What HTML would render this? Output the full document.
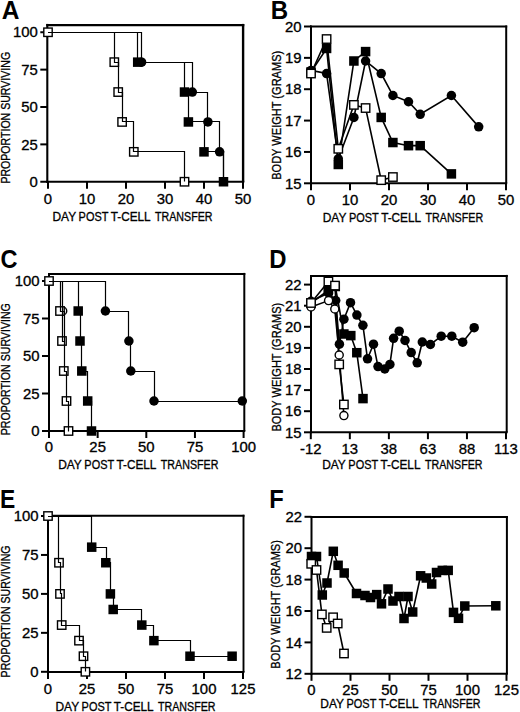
<!DOCTYPE html><html><head><meta charset="utf-8"><style>html,body{margin:0;padding:0;background:#fff;}svg{display:block;}text{stroke:#000;stroke-width:0.3px;}text.b{stroke-width:0;}</style></head><body>
<svg width="520" height="712" viewBox="0 0 520 712" font-family='"Liberation Sans", sans-serif' fill="#000">
<rect width="520" height="712" fill="#fff"/>
<line x1="47.30" y1="23.90" x2="47.30" y2="182.85" stroke="#000" stroke-width="2.1"/>
<line x1="46.25" y1="181.80" x2="244.30" y2="181.80" stroke="#000" stroke-width="2.1"/>
<line x1="46.25" y1="25.10" x2="244.30" y2="25.10" stroke="#000" stroke-width="2.4"/>
<line x1="243.10" y1="23.90" x2="243.10" y2="181.80" stroke="#000" stroke-width="2.4"/>
<line x1="40.30" y1="32.25" x2="47.30" y2="32.25" stroke="#000" stroke-width="2"/>
<text x="37.90" y="37.45" font-size="13.8" text-anchor="end" textLength="24.86" lengthAdjust="spacingAndGlyphs">100</text>
<line x1="40.30" y1="69.62" x2="47.30" y2="69.62" stroke="#000" stroke-width="2"/>
<text x="37.90" y="74.82" font-size="13.8" text-anchor="end" textLength="16.58" lengthAdjust="spacingAndGlyphs">75</text>
<line x1="40.30" y1="107.00" x2="47.30" y2="107.00" stroke="#000" stroke-width="2"/>
<text x="37.90" y="112.20" font-size="13.8" text-anchor="end" textLength="16.58" lengthAdjust="spacingAndGlyphs">50</text>
<line x1="40.30" y1="144.38" x2="47.30" y2="144.38" stroke="#000" stroke-width="2"/>
<text x="37.90" y="149.57" font-size="13.8" text-anchor="end" textLength="16.58" lengthAdjust="spacingAndGlyphs">25</text>
<line x1="40.30" y1="181.75" x2="47.30" y2="181.75" stroke="#000" stroke-width="2"/>
<text x="37.90" y="186.95" font-size="13.8" text-anchor="end" textLength="8.29" lengthAdjust="spacingAndGlyphs">0</text>
<line x1="48.00" y1="181.80" x2="48.00" y2="188.80" stroke="#000" stroke-width="2"/>
<text x="48.00" y="203.80" font-size="13.8" text-anchor="middle" textLength="8.29" lengthAdjust="spacingAndGlyphs">0</text>
<line x1="87.00" y1="181.80" x2="87.00" y2="188.80" stroke="#000" stroke-width="2"/>
<text x="87.00" y="203.80" font-size="13.8" text-anchor="middle" textLength="16.58" lengthAdjust="spacingAndGlyphs">10</text>
<line x1="126.00" y1="181.80" x2="126.00" y2="188.80" stroke="#000" stroke-width="2"/>
<text x="126.00" y="203.80" font-size="13.8" text-anchor="middle" textLength="16.58" lengthAdjust="spacingAndGlyphs">20</text>
<line x1="165.00" y1="181.80" x2="165.00" y2="188.80" stroke="#000" stroke-width="2"/>
<text x="165.00" y="203.80" font-size="13.8" text-anchor="middle" textLength="16.58" lengthAdjust="spacingAndGlyphs">30</text>
<line x1="204.00" y1="181.80" x2="204.00" y2="188.80" stroke="#000" stroke-width="2"/>
<text x="204.00" y="203.80" font-size="13.8" text-anchor="middle" textLength="16.58" lengthAdjust="spacingAndGlyphs">40</text>
<line x1="243.00" y1="181.80" x2="243.00" y2="188.80" stroke="#000" stroke-width="2"/>
<text x="243.00" y="203.80" font-size="13.8" text-anchor="middle" textLength="16.58" lengthAdjust="spacingAndGlyphs">50</text>
<text x="64.28" y="220.70" font-size="12.1" text-anchor="middle" textLength="23.66" lengthAdjust="spacingAndGlyphs">DAY</text>
<text x="93.50" y="220.70" font-size="12.1" text-anchor="middle" textLength="29.77" lengthAdjust="spacingAndGlyphs">POST</text>
<text x="130.67" y="220.70" font-size="12.1" text-anchor="middle" textLength="39.87" lengthAdjust="spacingAndGlyphs">T-CELL</text>
<text x="183.78" y="220.70" font-size="12.1" text-anchor="middle" textLength="57.54" lengthAdjust="spacingAndGlyphs">TRANSFER</text>
<text transform="translate(10.20,117.75) rotate(-90)" x="0" y="0" font-size="12.5" text-anchor="middle" textLength="131.70" lengthAdjust="spacingAndGlyphs">PROPORTION SURVIVING</text>
<text x="1.69" y="18.60" font-size="25.22" class="b" font-weight="bold" textLength="17.68" lengthAdjust="spacingAndGlyphs">A</text>
<circle cx="141.60" cy="62.15" r="4.75" fill="#000"/>
<circle cx="192.30" cy="92.05" r="4.75" fill="#000"/>
<circle cx="207.90" cy="121.95" r="4.75" fill="#000"/>
<circle cx="219.60" cy="151.85" r="4.75" fill="#000"/>
<rect x="132.95" y="57.40" width="9.50" height="9.50" fill="#000"/>
<rect x="179.75" y="87.30" width="9.50" height="9.50" fill="#000"/>
<rect x="183.65" y="117.20" width="9.50" height="9.50" fill="#000"/>
<rect x="199.25" y="147.10" width="9.50" height="9.50" fill="#000"/>
<rect x="218.75" y="177.00" width="9.50" height="9.50" fill="#000"/>
<rect x="43.80" y="28.05" width="8.40" height="8.40" fill="#fff" stroke="#000" stroke-width="1.4"/>
<rect x="110.10" y="57.95" width="8.40" height="8.40" fill="#fff" stroke="#000" stroke-width="1.4"/>
<rect x="114.00" y="87.85" width="8.40" height="8.40" fill="#fff" stroke="#000" stroke-width="1.4"/>
<rect x="117.90" y="117.75" width="8.40" height="8.40" fill="#fff" stroke="#000" stroke-width="1.4"/>
<rect x="129.60" y="147.65" width="8.40" height="8.40" fill="#fff" stroke="#000" stroke-width="1.4"/>
<rect x="180.30" y="177.55" width="8.40" height="8.40" fill="#fff" stroke="#000" stroke-width="1.4"/>
<polyline points="48.00,32.50 137.50,32.50 137.50,62.50 184.50,62.50 184.50,92.50 188.50,92.50 188.50,121.50 204.50,121.50 204.50,151.50 223.50,151.50 223.50,181.50" fill="none" stroke="#000" stroke-width="1.2" stroke-linejoin="miter"/>
<polyline points="48.00,32.50 141.50,32.50 141.50,62.50 192.50,62.50 192.50,92.50 207.50,92.50 207.50,121.50 219.50,121.50 219.50,151.50 223.50,151.50 223.50,181.50" fill="none" stroke="#000" stroke-width="1.2" stroke-linejoin="miter"/>
<polyline points="48.00,32.50 114.50,32.50 114.50,62.50 118.50,62.50 118.50,92.50 122.50,92.50 122.50,121.50 133.50,121.50 133.50,151.50 184.50,151.50 184.50,181.50" fill="none" stroke="#000" stroke-width="1.2" stroke-linejoin="miter"/>
<line x1="311.00" y1="25.50" x2="311.00" y2="184.30" stroke="#000" stroke-width="2.0"/>
<line x1="310.00" y1="183.30" x2="507.20" y2="183.30" stroke="#000" stroke-width="2.0"/>
<line x1="310.00" y1="26.50" x2="507.20" y2="26.50" stroke="#000" stroke-width="2.0"/>
<line x1="506.20" y1="25.50" x2="506.20" y2="183.30" stroke="#000" stroke-width="2.0"/>
<line x1="304.00" y1="26.50" x2="311.00" y2="26.50" stroke="#000" stroke-width="2"/>
<text x="301.60" y="31.70" font-size="13.8" text-anchor="end" textLength="16.58" lengthAdjust="spacingAndGlyphs">20</text>
<line x1="304.00" y1="57.86" x2="311.00" y2="57.86" stroke="#000" stroke-width="2"/>
<text x="301.60" y="63.06" font-size="13.8" text-anchor="end" textLength="16.58" lengthAdjust="spacingAndGlyphs">19</text>
<line x1="304.00" y1="89.22" x2="311.00" y2="89.22" stroke="#000" stroke-width="2"/>
<text x="301.60" y="94.42" font-size="13.8" text-anchor="end" textLength="16.58" lengthAdjust="spacingAndGlyphs">18</text>
<line x1="304.00" y1="120.58" x2="311.00" y2="120.58" stroke="#000" stroke-width="2"/>
<text x="301.60" y="125.78" font-size="13.8" text-anchor="end" textLength="16.58" lengthAdjust="spacingAndGlyphs">17</text>
<line x1="304.00" y1="151.94" x2="311.00" y2="151.94" stroke="#000" stroke-width="2"/>
<text x="301.60" y="157.14" font-size="13.8" text-anchor="end" textLength="16.58" lengthAdjust="spacingAndGlyphs">16</text>
<line x1="304.00" y1="183.30" x2="311.00" y2="183.30" stroke="#000" stroke-width="2"/>
<text x="301.60" y="188.50" font-size="13.8" text-anchor="end" textLength="16.58" lengthAdjust="spacingAndGlyphs">15</text>
<line x1="311.00" y1="183.30" x2="311.00" y2="190.30" stroke="#000" stroke-width="2"/>
<text x="311.00" y="205.30" font-size="13.8" text-anchor="middle" textLength="8.29" lengthAdjust="spacingAndGlyphs">0</text>
<line x1="350.00" y1="183.30" x2="350.00" y2="190.30" stroke="#000" stroke-width="2"/>
<text x="350.00" y="205.30" font-size="13.8" text-anchor="middle" textLength="16.58" lengthAdjust="spacingAndGlyphs">10</text>
<line x1="389.00" y1="183.30" x2="389.00" y2="190.30" stroke="#000" stroke-width="2"/>
<text x="389.00" y="205.30" font-size="13.8" text-anchor="middle" textLength="16.58" lengthAdjust="spacingAndGlyphs">20</text>
<line x1="428.00" y1="183.30" x2="428.00" y2="190.30" stroke="#000" stroke-width="2"/>
<text x="428.00" y="205.30" font-size="13.8" text-anchor="middle" textLength="16.58" lengthAdjust="spacingAndGlyphs">30</text>
<line x1="467.00" y1="183.30" x2="467.00" y2="190.30" stroke="#000" stroke-width="2"/>
<text x="467.00" y="205.30" font-size="13.8" text-anchor="middle" textLength="16.58" lengthAdjust="spacingAndGlyphs">40</text>
<line x1="506.00" y1="183.30" x2="506.00" y2="190.30" stroke="#000" stroke-width="2"/>
<text x="506.00" y="205.30" font-size="13.8" text-anchor="middle" textLength="16.58" lengthAdjust="spacingAndGlyphs">50</text>
<text x="334.60" y="221.70" font-size="12.1" text-anchor="middle" textLength="23.71" lengthAdjust="spacingAndGlyphs">DAY</text>
<text x="363.88" y="221.70" font-size="12.1" text-anchor="middle" textLength="29.82" lengthAdjust="spacingAndGlyphs">POST</text>
<text x="401.12" y="221.70" font-size="12.1" text-anchor="middle" textLength="39.95" lengthAdjust="spacingAndGlyphs">T-CELL</text>
<text x="454.33" y="221.70" font-size="12.1" text-anchor="middle" textLength="57.64" lengthAdjust="spacingAndGlyphs">TRANSFER</text>
<text transform="translate(281.00,115.30) rotate(-90)" x="0" y="0" font-size="12.5" text-anchor="middle" textLength="129.00" lengthAdjust="spacingAndGlyphs">BODY WEIGHT (GRAMS)</text>
<text x="270.63" y="18.60" font-size="25.22" class="b" font-weight="bold" textLength="17.40" lengthAdjust="spacingAndGlyphs">B</text>
<polyline points="311.00,70.40 326.60,73.54 338.30,158.84 353.90,117.44 365.60,61.00 381.20,73.54 392.90,95.49 408.50,101.76 420.20,114.31 451.40,95.49 478.70,126.85" fill="none" stroke="#000" stroke-width="1.6" stroke-linejoin="miter"/>
<polyline points="311.00,71.97 326.60,48.45 338.30,164.48 353.90,61.00 365.60,51.59 381.20,117.44 392.90,142.53 408.50,145.67 420.20,145.67 451.40,173.89" fill="none" stroke="#000" stroke-width="1.6" stroke-linejoin="miter"/>
<polyline points="311.00,73.54 326.60,39.04 338.30,148.80 353.90,104.90 365.60,108.04 381.20,180.16 392.90,177.03" fill="none" stroke="#000" stroke-width="1.6" stroke-linejoin="miter"/>
<circle cx="311.00" cy="70.40" r="4.75" fill="#000"/>
<circle cx="326.60" cy="73.54" r="4.75" fill="#000"/>
<circle cx="338.30" cy="158.84" r="4.75" fill="#000"/>
<circle cx="353.90" cy="117.44" r="4.75" fill="#000"/>
<circle cx="365.60" cy="61.00" r="4.75" fill="#000"/>
<circle cx="381.20" cy="73.54" r="4.75" fill="#000"/>
<circle cx="392.90" cy="95.49" r="4.75" fill="#000"/>
<circle cx="408.50" cy="101.76" r="4.75" fill="#000"/>
<circle cx="420.20" cy="114.31" r="4.75" fill="#000"/>
<circle cx="451.40" cy="95.49" r="4.75" fill="#000"/>
<circle cx="478.70" cy="126.85" r="4.75" fill="#000"/>
<rect x="306.25" y="67.22" width="9.50" height="9.50" fill="#000"/>
<rect x="321.85" y="43.70" width="9.50" height="9.50" fill="#000"/>
<rect x="333.55" y="159.73" width="9.50" height="9.50" fill="#000"/>
<rect x="349.15" y="56.25" width="9.50" height="9.50" fill="#000"/>
<rect x="360.85" y="46.84" width="9.50" height="9.50" fill="#000"/>
<rect x="376.45" y="112.69" width="9.50" height="9.50" fill="#000"/>
<rect x="388.15" y="137.78" width="9.50" height="9.50" fill="#000"/>
<rect x="403.75" y="140.92" width="9.50" height="9.50" fill="#000"/>
<rect x="415.45" y="140.92" width="9.50" height="9.50" fill="#000"/>
<rect x="446.65" y="169.14" width="9.50" height="9.50" fill="#000"/>
<rect x="306.80" y="69.34" width="8.40" height="8.40" fill="#fff" stroke="#000" stroke-width="1.4"/>
<rect x="322.40" y="34.84" width="8.40" height="8.40" fill="#fff" stroke="#000" stroke-width="1.4"/>
<rect x="334.10" y="144.60" width="8.40" height="8.40" fill="#fff" stroke="#000" stroke-width="1.4"/>
<rect x="349.70" y="100.70" width="8.40" height="8.40" fill="#fff" stroke="#000" stroke-width="1.4"/>
<rect x="361.40" y="103.84" width="8.40" height="8.40" fill="#fff" stroke="#000" stroke-width="1.4"/>
<rect x="377.00" y="175.96" width="8.40" height="8.40" fill="#fff" stroke="#000" stroke-width="1.4"/>
<rect x="388.70" y="172.83" width="8.40" height="8.40" fill="#fff" stroke="#000" stroke-width="1.4"/>
<line x1="49.00" y1="272.90" x2="49.00" y2="432.00" stroke="#000" stroke-width="2.0"/>
<line x1="48.00" y1="431.00" x2="245.30" y2="431.00" stroke="#000" stroke-width="2.0"/>
<line x1="48.00" y1="273.90" x2="245.30" y2="273.90" stroke="#000" stroke-width="2.0"/>
<line x1="244.30" y1="272.90" x2="244.30" y2="431.00" stroke="#000" stroke-width="2.0"/>
<line x1="42.00" y1="281.00" x2="49.00" y2="281.00" stroke="#000" stroke-width="2"/>
<text x="39.60" y="286.20" font-size="13.8" text-anchor="end" textLength="24.86" lengthAdjust="spacingAndGlyphs">100</text>
<line x1="42.00" y1="318.50" x2="49.00" y2="318.50" stroke="#000" stroke-width="2"/>
<text x="39.60" y="323.70" font-size="13.8" text-anchor="end" textLength="16.58" lengthAdjust="spacingAndGlyphs">75</text>
<line x1="42.00" y1="356.00" x2="49.00" y2="356.00" stroke="#000" stroke-width="2"/>
<text x="39.60" y="361.20" font-size="13.8" text-anchor="end" textLength="16.58" lengthAdjust="spacingAndGlyphs">50</text>
<line x1="42.00" y1="393.50" x2="49.00" y2="393.50" stroke="#000" stroke-width="2"/>
<text x="39.60" y="398.70" font-size="13.8" text-anchor="end" textLength="16.58" lengthAdjust="spacingAndGlyphs">25</text>
<line x1="42.00" y1="431.00" x2="49.00" y2="431.00" stroke="#000" stroke-width="2"/>
<text x="39.60" y="436.20" font-size="13.8" text-anchor="end" textLength="8.29" lengthAdjust="spacingAndGlyphs">0</text>
<line x1="49.00" y1="431.00" x2="49.00" y2="438.00" stroke="#000" stroke-width="2"/>
<text x="49.00" y="452.10" font-size="13.8" text-anchor="middle" textLength="8.29" lengthAdjust="spacingAndGlyphs">0</text>
<line x1="97.65" y1="431.00" x2="97.65" y2="438.00" stroke="#000" stroke-width="2"/>
<text x="97.65" y="452.10" font-size="13.8" text-anchor="middle" textLength="16.58" lengthAdjust="spacingAndGlyphs">25</text>
<line x1="146.30" y1="431.00" x2="146.30" y2="438.00" stroke="#000" stroke-width="2"/>
<text x="146.30" y="452.10" font-size="13.8" text-anchor="middle" textLength="16.58" lengthAdjust="spacingAndGlyphs">50</text>
<line x1="194.95" y1="431.00" x2="194.95" y2="438.00" stroke="#000" stroke-width="2"/>
<text x="194.95" y="452.10" font-size="13.8" text-anchor="middle" textLength="16.58" lengthAdjust="spacingAndGlyphs">75</text>
<line x1="243.60" y1="431.00" x2="243.60" y2="438.00" stroke="#000" stroke-width="2"/>
<text x="243.60" y="452.10" font-size="13.8" text-anchor="middle" textLength="24.86" lengthAdjust="spacingAndGlyphs">100</text>
<text x="70.00" y="469.40" font-size="12.1" text-anchor="middle" textLength="23.69" lengthAdjust="spacingAndGlyphs">DAY</text>
<text x="99.25" y="469.40" font-size="12.1" text-anchor="middle" textLength="29.80" lengthAdjust="spacingAndGlyphs">POST</text>
<text x="136.47" y="469.40" font-size="12.1" text-anchor="middle" textLength="39.92" lengthAdjust="spacingAndGlyphs">T-CELL</text>
<text x="189.65" y="469.40" font-size="12.1" text-anchor="middle" textLength="57.61" lengthAdjust="spacingAndGlyphs">TRANSFER</text>
<text transform="translate(10.30,369.25) rotate(-90)" x="0" y="0" font-size="12.5" text-anchor="middle" textLength="132.10" lengthAdjust="spacingAndGlyphs">PROPORTION SURVIVING</text>
<text x="0.56" y="268.35" font-size="25.49" class="b" font-weight="bold" textLength="16.98" lengthAdjust="spacingAndGlyphs">C</text>
<circle cx="105.40" cy="311.00" r="4.75" fill="#000"/>
<circle cx="128.90" cy="341.00" r="4.75" fill="#000"/>
<circle cx="130.80" cy="371.00" r="4.75" fill="#000"/>
<circle cx="154.00" cy="401.00" r="4.75" fill="#000"/>
<circle cx="242.30" cy="401.00" r="4.75" fill="#000"/>
<rect x="73.45" y="306.25" width="9.50" height="9.50" fill="#000"/>
<rect x="75.25" y="336.25" width="9.50" height="9.50" fill="#000"/>
<rect x="77.05" y="366.25" width="9.50" height="9.50" fill="#000"/>
<rect x="82.95" y="396.25" width="9.50" height="9.50" fill="#000"/>
<rect x="86.75" y="426.25" width="9.50" height="9.50" fill="#000"/>
<circle cx="62.70" cy="311.00" r="4.05" fill="#fff" stroke="#000" stroke-width="1.4"/>
<rect x="44.80" y="276.80" width="8.40" height="8.40" fill="#fff" stroke="#000" stroke-width="1.4"/>
<rect x="55.80" y="306.80" width="8.40" height="8.40" fill="#fff" stroke="#000" stroke-width="1.4"/>
<rect x="57.80" y="336.80" width="8.40" height="8.40" fill="#fff" stroke="#000" stroke-width="1.4"/>
<rect x="59.60" y="366.80" width="8.40" height="8.40" fill="#fff" stroke="#000" stroke-width="1.4"/>
<rect x="62.30" y="396.80" width="8.40" height="8.40" fill="#fff" stroke="#000" stroke-width="1.4"/>
<rect x="64.30" y="426.80" width="8.40" height="8.40" fill="#fff" stroke="#000" stroke-width="1.4"/>
<polyline points="49.00,281.50 105.50,281.50 105.50,311.50 128.50,311.50 128.50,341.50 130.50,341.50 130.50,371.50 154.50,371.50 154.50,401.50 242.50,401.50 242.50,401.50" fill="none" stroke="#000" stroke-width="1.2" stroke-linejoin="miter"/>
<polyline points="49.00,281.50 78.50,281.50 78.50,311.50 80.50,311.50 80.50,341.50 81.50,341.50 81.50,371.50 87.50,371.50 87.50,401.50 91.50,401.50 91.50,431.50" fill="none" stroke="#000" stroke-width="1.2" stroke-linejoin="miter"/>
<polyline points="49.00,281.50 60.50,281.50 60.50,311.50 62.50,311.50 62.50,341.50 64.50,341.50 64.50,371.50 66.50,371.50 66.50,401.50 68.50,401.50 68.50,431.50" fill="none" stroke="#000" stroke-width="1.2" stroke-linejoin="miter"/>
<polyline points="49.00,281.50 62.50,281.50 62.50,311.50 64.50,311.50 64.50,341.50" fill="none" stroke="#000" stroke-width="1.2" stroke-linejoin="miter"/>
<line x1="311.00" y1="274.90" x2="311.00" y2="433.20" stroke="#000" stroke-width="2.0"/>
<line x1="310.00" y1="432.20" x2="507.70" y2="432.20" stroke="#000" stroke-width="2.0"/>
<line x1="310.00" y1="275.90" x2="507.70" y2="275.90" stroke="#000" stroke-width="2.0"/>
<line x1="506.70" y1="274.90" x2="506.70" y2="432.20" stroke="#000" stroke-width="2.0"/>
<line x1="304.00" y1="284.60" x2="311.00" y2="284.60" stroke="#000" stroke-width="2"/>
<text x="301.60" y="289.80" font-size="13.8" text-anchor="end" textLength="16.58" lengthAdjust="spacingAndGlyphs">22</text>
<line x1="304.00" y1="305.70" x2="311.00" y2="305.70" stroke="#000" stroke-width="2"/>
<text x="301.60" y="310.90" font-size="13.8" text-anchor="end" textLength="16.58" lengthAdjust="spacingAndGlyphs">21</text>
<line x1="304.00" y1="326.80" x2="311.00" y2="326.80" stroke="#000" stroke-width="2"/>
<text x="301.60" y="332.00" font-size="13.8" text-anchor="end" textLength="16.58" lengthAdjust="spacingAndGlyphs">20</text>
<line x1="304.00" y1="347.90" x2="311.00" y2="347.90" stroke="#000" stroke-width="2"/>
<text x="301.60" y="353.10" font-size="13.8" text-anchor="end" textLength="16.58" lengthAdjust="spacingAndGlyphs">19</text>
<line x1="304.00" y1="369.00" x2="311.00" y2="369.00" stroke="#000" stroke-width="2"/>
<text x="301.60" y="374.20" font-size="13.8" text-anchor="end" textLength="16.58" lengthAdjust="spacingAndGlyphs">18</text>
<line x1="304.00" y1="390.10" x2="311.00" y2="390.10" stroke="#000" stroke-width="2"/>
<text x="301.60" y="395.30" font-size="13.8" text-anchor="end" textLength="16.58" lengthAdjust="spacingAndGlyphs">17</text>
<line x1="304.00" y1="411.20" x2="311.00" y2="411.20" stroke="#000" stroke-width="2"/>
<text x="301.60" y="416.40" font-size="13.8" text-anchor="end" textLength="16.58" lengthAdjust="spacingAndGlyphs">16</text>
<line x1="304.00" y1="432.30" x2="311.00" y2="432.30" stroke="#000" stroke-width="2"/>
<text x="301.60" y="437.50" font-size="13.8" text-anchor="end" textLength="16.58" lengthAdjust="spacingAndGlyphs">15</text>
<line x1="310.80" y1="432.20" x2="310.80" y2="439.20" stroke="#000" stroke-width="2"/>
<text x="310.80" y="453.60" font-size="13.8" text-anchor="middle" textLength="21.54" lengthAdjust="spacingAndGlyphs">-12</text>
<line x1="349.84" y1="432.20" x2="349.84" y2="439.20" stroke="#000" stroke-width="2"/>
<text x="349.84" y="453.60" font-size="13.8" text-anchor="middle" textLength="16.58" lengthAdjust="spacingAndGlyphs">13</text>
<line x1="388.88" y1="432.20" x2="388.88" y2="439.20" stroke="#000" stroke-width="2"/>
<text x="388.88" y="453.60" font-size="13.8" text-anchor="middle" textLength="16.58" lengthAdjust="spacingAndGlyphs">38</text>
<line x1="427.92" y1="432.20" x2="427.92" y2="439.20" stroke="#000" stroke-width="2"/>
<text x="427.92" y="453.60" font-size="13.8" text-anchor="middle" textLength="16.58" lengthAdjust="spacingAndGlyphs">63</text>
<line x1="466.96" y1="432.20" x2="466.96" y2="439.20" stroke="#000" stroke-width="2"/>
<text x="466.96" y="453.60" font-size="13.8" text-anchor="middle" textLength="16.58" lengthAdjust="spacingAndGlyphs">88</text>
<line x1="506.00" y1="432.20" x2="506.00" y2="439.20" stroke="#000" stroke-width="2"/>
<text x="506.00" y="453.60" font-size="13.8" text-anchor="middle" textLength="23.76" lengthAdjust="spacingAndGlyphs">113</text>
<text x="334.00" y="469.30" font-size="12.1" text-anchor="middle" textLength="23.71" lengthAdjust="spacingAndGlyphs">DAY</text>
<text x="363.28" y="469.30" font-size="12.1" text-anchor="middle" textLength="29.82" lengthAdjust="spacingAndGlyphs">POST</text>
<text x="400.52" y="469.30" font-size="12.1" text-anchor="middle" textLength="39.95" lengthAdjust="spacingAndGlyphs">T-CELL</text>
<text x="453.73" y="469.30" font-size="12.1" text-anchor="middle" textLength="57.64" lengthAdjust="spacingAndGlyphs">TRANSFER</text>
<text transform="translate(280.60,367.20) rotate(-90)" x="0" y="0" font-size="12.5" text-anchor="middle" textLength="128.80" lengthAdjust="spacingAndGlyphs">BODY WEIGHT (GRAMS)</text>
<text x="269.25" y="268.10" font-size="25.94" class="b" font-weight="bold" textLength="17.26" lengthAdjust="spacingAndGlyphs">D</text>
<polyline points="311.00,301.30 328.60,293.00 335.70,300.50 339.40,344.20 343.90,319.20 350.50,302.70 356.90,315.10 362.90,325.30 367.50,358.80 373.50,344.20 378.00,366.60 384.80,368.90 389.90,364.40 393.60,338.30 399.20,331.20 405.00,340.40 411.20,352.60 417.20,362.80 422.30,342.00 430.40,344.50 441.20,336.20 451.80,336.20 462.70,342.20 474.20,327.70" fill="none" stroke="#000" stroke-width="1.6" stroke-linejoin="miter"/>
<polyline points="311.00,303.00 328.20,290.50 335.30,286.50 343.90,334.00 350.80,335.60 356.80,352.70 363.00,398.60" fill="none" stroke="#000" stroke-width="1.6" stroke-linejoin="miter"/>
<polyline points="311.00,303.00 328.40,281.50 335.00,285.60 339.20,364.40 343.90,404.50" fill="none" stroke="#000" stroke-width="1.6" stroke-linejoin="miter"/>
<polyline points="311.00,307.00 328.60,300.60 334.80,309.00 339.20,355.00 343.90,415.60" fill="none" stroke="#000" stroke-width="1.6" stroke-linejoin="miter"/>
<circle cx="311.00" cy="301.30" r="4.75" fill="#000"/>
<circle cx="328.60" cy="293.00" r="4.75" fill="#000"/>
<circle cx="335.70" cy="300.50" r="4.75" fill="#000"/>
<circle cx="339.40" cy="344.20" r="4.75" fill="#000"/>
<circle cx="343.90" cy="319.20" r="4.75" fill="#000"/>
<circle cx="350.50" cy="302.70" r="4.75" fill="#000"/>
<circle cx="356.90" cy="315.10" r="4.75" fill="#000"/>
<circle cx="362.90" cy="325.30" r="4.75" fill="#000"/>
<circle cx="367.50" cy="358.80" r="4.75" fill="#000"/>
<circle cx="373.50" cy="344.20" r="4.75" fill="#000"/>
<circle cx="378.00" cy="366.60" r="4.75" fill="#000"/>
<circle cx="384.80" cy="368.90" r="4.75" fill="#000"/>
<circle cx="389.90" cy="364.40" r="4.75" fill="#000"/>
<circle cx="393.60" cy="338.30" r="4.75" fill="#000"/>
<circle cx="399.20" cy="331.20" r="4.75" fill="#000"/>
<circle cx="405.00" cy="340.40" r="4.75" fill="#000"/>
<circle cx="411.20" cy="352.60" r="4.75" fill="#000"/>
<circle cx="417.20" cy="362.80" r="4.75" fill="#000"/>
<circle cx="422.30" cy="342.00" r="4.75" fill="#000"/>
<circle cx="430.40" cy="344.50" r="4.75" fill="#000"/>
<circle cx="441.20" cy="336.20" r="4.75" fill="#000"/>
<circle cx="451.80" cy="336.20" r="4.75" fill="#000"/>
<circle cx="462.70" cy="342.20" r="4.75" fill="#000"/>
<circle cx="474.20" cy="327.70" r="4.75" fill="#000"/>
<rect x="306.25" y="298.25" width="9.50" height="9.50" fill="#000"/>
<rect x="323.45" y="285.75" width="9.50" height="9.50" fill="#000"/>
<rect x="330.55" y="281.75" width="9.50" height="9.50" fill="#000"/>
<rect x="339.15" y="329.25" width="9.50" height="9.50" fill="#000"/>
<rect x="346.05" y="330.85" width="9.50" height="9.50" fill="#000"/>
<rect x="352.05" y="347.95" width="9.50" height="9.50" fill="#000"/>
<rect x="358.25" y="393.85" width="9.50" height="9.50" fill="#000"/>
<circle cx="311.00" cy="307.00" r="4.05" fill="#fff" stroke="#000" stroke-width="1.4"/>
<circle cx="328.60" cy="300.60" r="4.05" fill="#fff" stroke="#000" stroke-width="1.4"/>
<circle cx="334.80" cy="309.00" r="4.05" fill="#fff" stroke="#000" stroke-width="1.4"/>
<circle cx="339.20" cy="355.00" r="4.05" fill="#fff" stroke="#000" stroke-width="1.4"/>
<circle cx="343.90" cy="415.60" r="4.05" fill="#fff" stroke="#000" stroke-width="1.4"/>
<rect x="306.80" y="298.80" width="8.40" height="8.40" fill="#fff" stroke="#000" stroke-width="1.4"/>
<rect x="324.20" y="277.30" width="8.40" height="8.40" fill="#fff" stroke="#000" stroke-width="1.4"/>
<rect x="330.80" y="281.40" width="8.40" height="8.40" fill="#fff" stroke="#000" stroke-width="1.4"/>
<rect x="335.00" y="360.20" width="8.40" height="8.40" fill="#fff" stroke="#000" stroke-width="1.4"/>
<rect x="339.70" y="400.30" width="8.40" height="8.40" fill="#fff" stroke="#000" stroke-width="1.4"/>
<line x1="48.00" y1="514.75" x2="48.00" y2="673.00" stroke="#000" stroke-width="2.0"/>
<line x1="47.00" y1="672.00" x2="244.45" y2="672.00" stroke="#000" stroke-width="2.0"/>
<line x1="47.00" y1="515.70" x2="244.45" y2="515.70" stroke="#000" stroke-width="1.9"/>
<line x1="243.50" y1="514.75" x2="243.50" y2="672.00" stroke="#000" stroke-width="1.9"/>
<line x1="41.00" y1="516.00" x2="48.00" y2="516.00" stroke="#000" stroke-width="2"/>
<text x="38.60" y="521.20" font-size="13.8" text-anchor="end" textLength="24.86" lengthAdjust="spacingAndGlyphs">100</text>
<line x1="41.00" y1="554.95" x2="48.00" y2="554.95" stroke="#000" stroke-width="2"/>
<text x="38.60" y="560.15" font-size="13.8" text-anchor="end" textLength="16.58" lengthAdjust="spacingAndGlyphs">75</text>
<line x1="41.00" y1="593.90" x2="48.00" y2="593.90" stroke="#000" stroke-width="2"/>
<text x="38.60" y="599.10" font-size="13.8" text-anchor="end" textLength="16.58" lengthAdjust="spacingAndGlyphs">50</text>
<line x1="41.00" y1="632.85" x2="48.00" y2="632.85" stroke="#000" stroke-width="2"/>
<text x="38.60" y="638.05" font-size="13.8" text-anchor="end" textLength="16.58" lengthAdjust="spacingAndGlyphs">25</text>
<line x1="41.00" y1="671.80" x2="48.00" y2="671.80" stroke="#000" stroke-width="2"/>
<text x="38.60" y="677.00" font-size="13.8" text-anchor="end" textLength="8.29" lengthAdjust="spacingAndGlyphs">0</text>
<line x1="48.00" y1="672.00" x2="48.00" y2="679.00" stroke="#000" stroke-width="2"/>
<text x="48.00" y="694.00" font-size="13.8" text-anchor="middle" textLength="8.29" lengthAdjust="spacingAndGlyphs">0</text>
<line x1="87.00" y1="672.00" x2="87.00" y2="679.00" stroke="#000" stroke-width="2"/>
<text x="87.00" y="694.00" font-size="13.8" text-anchor="middle" textLength="16.58" lengthAdjust="spacingAndGlyphs">25</text>
<line x1="126.00" y1="672.00" x2="126.00" y2="679.00" stroke="#000" stroke-width="2"/>
<text x="126.00" y="694.00" font-size="13.8" text-anchor="middle" textLength="16.58" lengthAdjust="spacingAndGlyphs">50</text>
<line x1="165.00" y1="672.00" x2="165.00" y2="679.00" stroke="#000" stroke-width="2"/>
<text x="165.00" y="694.00" font-size="13.8" text-anchor="middle" textLength="16.58" lengthAdjust="spacingAndGlyphs">75</text>
<line x1="204.00" y1="672.00" x2="204.00" y2="679.00" stroke="#000" stroke-width="2"/>
<text x="204.00" y="694.00" font-size="13.8" text-anchor="middle" textLength="24.86" lengthAdjust="spacingAndGlyphs">100</text>
<line x1="243.00" y1="672.00" x2="243.00" y2="679.00" stroke="#000" stroke-width="2"/>
<text x="243.00" y="694.00" font-size="13.8" text-anchor="middle" textLength="24.86" lengthAdjust="spacingAndGlyphs">125</text>
<text x="67.28" y="710.50" font-size="12.1" text-anchor="middle" textLength="23.66" lengthAdjust="spacingAndGlyphs">DAY</text>
<text x="96.50" y="710.50" font-size="12.1" text-anchor="middle" textLength="29.77" lengthAdjust="spacingAndGlyphs">POST</text>
<text x="133.67" y="710.50" font-size="12.1" text-anchor="middle" textLength="39.87" lengthAdjust="spacingAndGlyphs">T-CELL</text>
<text x="186.78" y="710.50" font-size="12.1" text-anchor="middle" textLength="57.54" lengthAdjust="spacingAndGlyphs">TRANSFER</text>
<text transform="translate(10.00,611.45) rotate(-90)" x="0" y="0" font-size="12.5" text-anchor="middle" textLength="131.90" lengthAdjust="spacingAndGlyphs">PROPORTION SURVIVING</text>
<text x="0.02" y="508.40" font-size="25.51" class="b" font-weight="bold" textLength="15.23" lengthAdjust="spacingAndGlyphs">E</text>
<rect x="86.95" y="542.41" width="9.50" height="9.50" fill="#000"/>
<rect x="101.05" y="557.99" width="9.50" height="9.50" fill="#000"/>
<rect x="105.65" y="589.15" width="9.50" height="9.50" fill="#000"/>
<rect x="108.45" y="604.73" width="9.50" height="9.50" fill="#000"/>
<rect x="137.05" y="620.31" width="9.50" height="9.50" fill="#000"/>
<rect x="149.15" y="635.89" width="9.50" height="9.50" fill="#000"/>
<rect x="185.25" y="651.47" width="9.50" height="9.50" fill="#000"/>
<rect x="227.35" y="651.47" width="9.50" height="9.50" fill="#000"/>
<rect x="43.80" y="511.80" width="8.40" height="8.40" fill="#fff" stroke="#000" stroke-width="1.4"/>
<rect x="54.80" y="558.54" width="8.40" height="8.40" fill="#fff" stroke="#000" stroke-width="1.4"/>
<rect x="55.80" y="589.70" width="8.40" height="8.40" fill="#fff" stroke="#000" stroke-width="1.4"/>
<rect x="57.50" y="620.86" width="8.40" height="8.40" fill="#fff" stroke="#000" stroke-width="1.4"/>
<rect x="74.80" y="636.44" width="8.40" height="8.40" fill="#fff" stroke="#000" stroke-width="1.4"/>
<rect x="79.30" y="652.02" width="8.40" height="8.40" fill="#fff" stroke="#000" stroke-width="1.4"/>
<rect x="81.20" y="667.60" width="8.40" height="8.40" fill="#fff" stroke="#000" stroke-width="1.4"/>
<polyline points="48.00,516.50 91.50,516.50 91.50,547.50 106.50,547.50 106.50,562.50 110.50,562.50 110.50,593.50 113.50,593.50 113.50,609.50 141.50,609.50 141.50,625.50 153.50,625.50 153.50,640.50 190.50,640.50 190.50,656.50 232.50,656.50 232.50,656.50" fill="none" stroke="#000" stroke-width="1.2" stroke-linejoin="miter"/>
<polyline points="48.00,516.50 58.50,516.50 58.50,562.50 60.50,562.50 60.50,593.50 61.50,593.50 61.50,625.50 79.50,625.50 79.50,640.50 83.50,640.50 83.50,656.50 85.50,656.50 85.50,671.50" fill="none" stroke="#000" stroke-width="1.2" stroke-linejoin="miter"/>
<line x1="311.50" y1="516.10" x2="311.50" y2="674.80" stroke="#000" stroke-width="2.0"/>
<line x1="310.50" y1="673.80" x2="507.90" y2="673.80" stroke="#000" stroke-width="2.0"/>
<line x1="310.50" y1="517.10" x2="507.90" y2="517.10" stroke="#000" stroke-width="2.0"/>
<line x1="506.90" y1="516.10" x2="506.90" y2="673.80" stroke="#000" stroke-width="2.0"/>
<line x1="304.50" y1="516.80" x2="311.50" y2="516.80" stroke="#000" stroke-width="2"/>
<text x="302.10" y="522.00" font-size="13.8" text-anchor="end" textLength="16.58" lengthAdjust="spacingAndGlyphs">22</text>
<line x1="304.50" y1="548.20" x2="311.50" y2="548.20" stroke="#000" stroke-width="2"/>
<text x="302.10" y="553.40" font-size="13.8" text-anchor="end" textLength="16.58" lengthAdjust="spacingAndGlyphs">20</text>
<line x1="304.50" y1="579.60" x2="311.50" y2="579.60" stroke="#000" stroke-width="2"/>
<text x="302.10" y="584.80" font-size="13.8" text-anchor="end" textLength="16.58" lengthAdjust="spacingAndGlyphs">18</text>
<line x1="304.50" y1="611.00" x2="311.50" y2="611.00" stroke="#000" stroke-width="2"/>
<text x="302.10" y="616.20" font-size="13.8" text-anchor="end" textLength="16.58" lengthAdjust="spacingAndGlyphs">16</text>
<line x1="304.50" y1="642.40" x2="311.50" y2="642.40" stroke="#000" stroke-width="2"/>
<text x="302.10" y="647.60" font-size="13.8" text-anchor="end" textLength="16.58" lengthAdjust="spacingAndGlyphs">14</text>
<line x1="304.50" y1="673.80" x2="311.50" y2="673.80" stroke="#000" stroke-width="2"/>
<text x="302.10" y="679.00" font-size="13.8" text-anchor="end" textLength="16.58" lengthAdjust="spacingAndGlyphs">12</text>
<line x1="311.50" y1="673.80" x2="311.50" y2="680.80" stroke="#000" stroke-width="2"/>
<text x="311.50" y="695.40" font-size="13.8" text-anchor="middle" textLength="8.29" lengthAdjust="spacingAndGlyphs">0</text>
<line x1="350.50" y1="673.80" x2="350.50" y2="680.80" stroke="#000" stroke-width="2"/>
<text x="350.50" y="695.40" font-size="13.8" text-anchor="middle" textLength="16.58" lengthAdjust="spacingAndGlyphs">25</text>
<line x1="389.50" y1="673.80" x2="389.50" y2="680.80" stroke="#000" stroke-width="2"/>
<text x="389.50" y="695.40" font-size="13.8" text-anchor="middle" textLength="16.58" lengthAdjust="spacingAndGlyphs">50</text>
<line x1="428.50" y1="673.80" x2="428.50" y2="680.80" stroke="#000" stroke-width="2"/>
<text x="428.50" y="695.40" font-size="13.8" text-anchor="middle" textLength="16.58" lengthAdjust="spacingAndGlyphs">75</text>
<line x1="467.50" y1="673.80" x2="467.50" y2="680.80" stroke="#000" stroke-width="2"/>
<text x="467.50" y="695.40" font-size="13.8" text-anchor="middle" textLength="24.86" lengthAdjust="spacingAndGlyphs">100</text>
<line x1="506.50" y1="673.80" x2="506.50" y2="680.80" stroke="#000" stroke-width="2"/>
<text x="506.50" y="695.40" font-size="13.8" text-anchor="middle" textLength="24.86" lengthAdjust="spacingAndGlyphs">125</text>
<text x="332.19" y="708.30" font-size="12.1" text-anchor="middle" textLength="23.68" lengthAdjust="spacingAndGlyphs">DAY</text>
<text x="361.43" y="708.30" font-size="12.1" text-anchor="middle" textLength="29.79" lengthAdjust="spacingAndGlyphs">POST</text>
<text x="398.62" y="708.30" font-size="12.1" text-anchor="middle" textLength="39.90" lengthAdjust="spacingAndGlyphs">T-CELL</text>
<text x="451.76" y="708.30" font-size="12.1" text-anchor="middle" textLength="57.57" lengthAdjust="spacingAndGlyphs">TRANSFER</text>
<text transform="translate(280.20,604.45) rotate(-90)" x="0" y="0" font-size="12.5" text-anchor="middle" textLength="128.50" lengthAdjust="spacingAndGlyphs">BODY WEIGHT (GRAMS)</text>
<text x="269.26" y="508.40" font-size="25.94" class="b" font-weight="bold" textLength="14.49" lengthAdjust="spacingAndGlyphs">F</text>
<polyline points="311.50,556.50 316.50,556.50 322.30,595.00 327.00,583.00 333.30,551.30 338.10,565.30 344.20,573.00 356.50,593.50 365.00,595.50 370.50,597.50 376.70,594.60 381.50,603.80 388.00,589.00 393.00,601.00 399.00,596.50 404.00,618.50 408.00,596.50 412.70,612.00 420.60,575.80 426.30,578.00 431.70,584.00 436.50,572.50 442.30,570.40 448.20,570.40 453.50,612.40 458.50,618.30 464.80,606.00 495.80,605.80" fill="none" stroke="#000" stroke-width="1.6" stroke-linejoin="miter"/>
<polyline points="311.20,563.80 316.50,570.00 321.90,614.40 326.70,627.90 333.10,617.30 337.70,623.50 344.00,653.50" fill="none" stroke="#000" stroke-width="1.6" stroke-linejoin="miter"/>
<rect x="306.75" y="551.75" width="9.50" height="9.50" fill="#000"/>
<rect x="311.75" y="551.75" width="9.50" height="9.50" fill="#000"/>
<rect x="317.55" y="590.25" width="9.50" height="9.50" fill="#000"/>
<rect x="322.25" y="578.25" width="9.50" height="9.50" fill="#000"/>
<rect x="328.55" y="546.55" width="9.50" height="9.50" fill="#000"/>
<rect x="333.35" y="560.55" width="9.50" height="9.50" fill="#000"/>
<rect x="339.45" y="568.25" width="9.50" height="9.50" fill="#000"/>
<rect x="351.75" y="588.75" width="9.50" height="9.50" fill="#000"/>
<rect x="360.25" y="590.75" width="9.50" height="9.50" fill="#000"/>
<rect x="365.75" y="592.75" width="9.50" height="9.50" fill="#000"/>
<rect x="371.95" y="589.85" width="9.50" height="9.50" fill="#000"/>
<rect x="376.75" y="599.05" width="9.50" height="9.50" fill="#000"/>
<rect x="383.25" y="584.25" width="9.50" height="9.50" fill="#000"/>
<rect x="388.25" y="596.25" width="9.50" height="9.50" fill="#000"/>
<rect x="394.25" y="591.75" width="9.50" height="9.50" fill="#000"/>
<rect x="399.25" y="613.75" width="9.50" height="9.50" fill="#000"/>
<rect x="403.25" y="591.75" width="9.50" height="9.50" fill="#000"/>
<rect x="407.95" y="607.25" width="9.50" height="9.50" fill="#000"/>
<rect x="415.85" y="571.05" width="9.50" height="9.50" fill="#000"/>
<rect x="421.55" y="573.25" width="9.50" height="9.50" fill="#000"/>
<rect x="426.95" y="579.25" width="9.50" height="9.50" fill="#000"/>
<rect x="431.75" y="567.75" width="9.50" height="9.50" fill="#000"/>
<rect x="437.55" y="565.65" width="9.50" height="9.50" fill="#000"/>
<rect x="443.45" y="565.65" width="9.50" height="9.50" fill="#000"/>
<rect x="448.75" y="607.65" width="9.50" height="9.50" fill="#000"/>
<rect x="453.75" y="613.55" width="9.50" height="9.50" fill="#000"/>
<rect x="460.05" y="601.25" width="9.50" height="9.50" fill="#000"/>
<rect x="491.05" y="601.05" width="9.50" height="9.50" fill="#000"/>
<rect x="307.00" y="559.60" width="8.40" height="8.40" fill="#fff" stroke="#000" stroke-width="1.4"/>
<rect x="312.30" y="565.80" width="8.40" height="8.40" fill="#fff" stroke="#000" stroke-width="1.4"/>
<rect x="317.70" y="610.20" width="8.40" height="8.40" fill="#fff" stroke="#000" stroke-width="1.4"/>
<rect x="322.50" y="623.70" width="8.40" height="8.40" fill="#fff" stroke="#000" stroke-width="1.4"/>
<rect x="328.90" y="613.10" width="8.40" height="8.40" fill="#fff" stroke="#000" stroke-width="1.4"/>
<rect x="333.50" y="619.30" width="8.40" height="8.40" fill="#fff" stroke="#000" stroke-width="1.4"/>
<rect x="339.80" y="649.30" width="8.40" height="8.40" fill="#fff" stroke="#000" stroke-width="1.4"/>
</svg></body></html>
